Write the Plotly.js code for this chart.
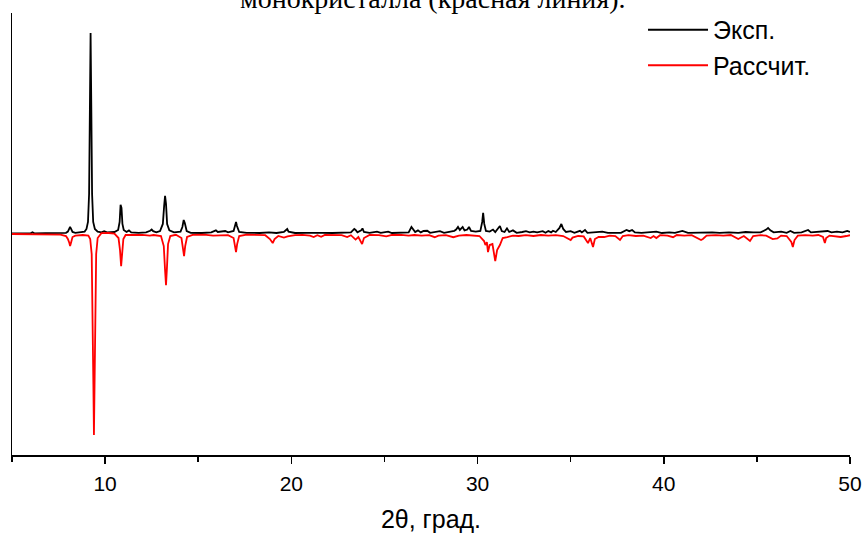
<!DOCTYPE html>
<html>
<head>
<meta charset="utf-8">
<script src="https://cdn.plot.ly/plotly-3.0.1.min.js"></script>
<style>html,body{margin:0;padding:0;background:#fff;}#chart{width:867px;height:538px;}</style>
</head>
<body>
<div id="chart"></div>
<script>
// Experimental pattern (2θ, intensity)
const expTwoTheta = [
 5.0, 5.5, 6.0, 6.1, 6.2, 6.8, 7.5, 7.9, 8.0, 8.08, 8.12, 8.16, 8.25, 8.4, 8.7, 8.9,
 9.0, 9.08, 9.14, 9.18, 9.22, 9.26, 9.3, 9.36, 9.45, 9.6, 9.8, 9.95, 10.1, 10.5,
 10.7, 10.78, 10.83, 10.88, 10.93, 11.0, 11.15, 11.28, 11.4, 11.8, 12.2, 12.42, 12.5, 12.58, 12.75,
 12.95, 13.1, 13.17, 13.22, 13.27, 13.33, 13.45, 13.7, 14.05, 14.15, 14.22, 14.28, 14.38, 14.6,
 15.2, 15.7, 15.95, 16.05, 16.45, 16.6, 16.9, 16.98, 17.03, 17.08, 17.2, 17.6, 18.3, 18.8, 19.2,
 19.6, 19.72, 19.78, 19.85, 20.2, 20.8, 21.3, 21.7, 22.2, 22.8, 23.2, 23.38, 23.45, 23.55, 23.75,
 23.82, 23.9, 24.2, 24.6, 24.8, 25.2, 25.4, 25.9, 26.3, 26.45, 26.52, 26.65, 26.8, 26.95, 27.1,
 27.3, 27.45, 27.98, 28.2, 28.5, 28.75, 28.85, 28.95, 29.05, 29.2, 29.3, 29.45, 29.54, 29.65, 29.9,
 30.15, 30.25, 30.3, 30.36, 30.45, 30.65, 30.83, 30.95, 31.1, 31.2, 31.3, 31.45, 31.58, 31.7, 31.9,
 32.1, 32.4, 32.6, 32.8, 33.0, 33.2, 33.5, 33.65, 33.8, 33.95, 34.05, 34.2, 34.4, 34.5, 34.6,
 34.75, 35.0, 35.2, 35.5, 35.6, 35.77, 35.9, 36.2, 36.7, 37.0, 37.4, 37.7, 38.0, 38.15, 38.3,
 38.45, 38.8, 39.3, 39.6, 39.9, 40.3, 40.6, 41.0, 41.3, 41.8, 42.2, 42.6, 43.0, 43.5, 44.0,
 44.4, 44.8, 45.2, 45.5, 45.6, 45.72, 45.9, 46.3, 46.6, 46.8, 47.0, 47.4, 47.75, 47.9, 48.3,
 48.8, 49.0, 49.3, 49.6, 49.85, 50.0
];
const expIntensity = [
 3, 2, 3, 8, 3, 4, 4, 6, 12, 30, 35, 28, 10, 6, 8, 12,
 25, 60, 200, 600, 1000, 620, 200, 60, 25, 12, 8, 14, 8, 10,
 20, 60, 145, 130, 50, 20, 10, 18, 8, 6, 8, 16, 22, 14, 8,
 15, 50, 140, 190, 150, 50, 18, 8, 12, 35, 70, 55, 15, 6,
 5, 8, 18, 10, 15, 8, 15, 45, 60, 40, 10, 6, 5, 8, 5,
 10, 22, 25, 12, 5, 6, 8, 6, 5, 6, 8, 25, 20, 8, 18,
 28, 10, 6, 12, 6, 12, 5, 6, 8, 35, 25, 10, 18, 8, 15,
 16, 6, 14, 6, 10, 16, 22, 35, 20, 35, 18, 22, 35, 15, 12,
 15, 60, 105, 50, 15, 12, 22, 10, 25, 40, 15, 10, 28, 10, 18,
 6, 10, 14, 8, 12, 8, 14, 6, 15, 8, 16, 10, 30, 50, 25,
 10, 14, 6, 16, 8, 20, 6, 8, 12, 6, 8, 6, 20, 14, 20,
 8, 6, 12, 12, 5, 8, 6, 15, 6, 8, 6, 8, 6, 8, 6,
 10, 8, 8, 22, 30, 18, 8, 12, 6, 15, 6, 8, 20, 8, 10,
 15, 8, 12, 8, 15, 10
];
// Calculated pattern (2θ, intensity, plotted inverted)
const calcTwoTheta = [
 5.0, 5.5, 6.0, 6.5, 7.0, 7.6, 7.9, 8.0, 8.08, 8.12, 8.18, 8.25, 8.4, 8.8, 9.1,
 9.2, 9.28, 9.33, 9.37, 9.4, 9.43, 9.47, 9.52, 9.6, 9.8, 10.2, 10.5, 10.72, 10.8, 10.86,
 10.92, 10.98, 11.1, 11.5, 12.0, 12.4, 12.6, 13.0, 13.15, 13.22, 13.27, 13.32, 13.38, 13.5, 13.8,
 14.1, 14.18, 14.24, 14.3, 14.4, 14.7, 15.3, 15.8, 16.3, 16.6, 16.9, 16.98, 17.03, 17.09, 17.2,
 17.6, 18.1, 18.6, 18.85, 19.0, 19.1, 19.3, 19.6, 19.8, 20.2, 20.6, 21.0, 21.2, 21.4, 21.6,
 21.8, 22.3, 22.7, 23.0, 23.2, 23.45, 23.6, 23.8, 23.9, 24.2, 24.7, 25.1, 25.4, 25.9, 26.3,
 26.6, 27.0, 27.4, 27.7, 27.9, 28.3, 28.7, 29.0, 29.4, 29.8, 30.1, 30.35, 30.42, 30.5, 30.56,
 30.65, 30.8, 30.95, 31.05, 31.2, 31.35, 31.6, 31.9, 32.2, 32.6, 33.0, 33.4, 33.8, 34.2, 34.6,
 34.85, 35.0, 35.1, 35.4, 35.7, 35.93, 36.05, 36.2, 36.3, 36.5, 36.8, 37.1, 37.4, 37.65, 37.8,
 38.1, 38.5, 38.9, 39.3, 39.45, 39.6, 39.8, 40.2, 40.5, 40.7, 41.1, 41.5, 42.0, 42.1, 42.3,
 42.8, 43.2, 43.6, 44.0, 44.1, 44.3, 44.63, 44.8, 45.2, 45.5, 45.85, 46.1, 46.3, 46.6, 46.85,
 46.93, 47.02, 47.2, 47.6, 48.0, 48.3, 48.55, 48.65, 48.72, 48.9, 49.2, 49.5, 49.8, 50.0
];
const calcIntensity = [
 0, 0, 0, 0, -2, -3, -10, -25, -45, -60, -40, -15, -8, -5, -8,
 -25, -100, -350, -750, -1000, -750, -350, -100, -20, 4, 5, 2, -20, -80, -160,
 -90, -25, -5, -3, -4, -8, -5, -10, -60, -180, -255, -170, -50, -10, -4,
 -20, -70, -110, -60, -15, -4, -3, -8, -5, -6, -20, -60, -90, -50, -10,
 -3, -3, -6, -25, -45, -25, -10, -18, -12, -6, -4, -8, -15, -6, -14,
 -5, -4, -6, -15, -6, -28, -15, -50, -20, -5, -6, -12, -5, -4, -8,
 -5, -8, -6, -16, -8, -6, -16, -8, -5, -8, -10, -35, -55, -40, -90,
 -55, -50, -135, -80, -55, -20, -15, -8, -10, -6, -10, -5, -8, -6, -10,
 -22, -30, -18, -10, -12, -45, -20, -65, -25, -15, -15, -8, -10, -30, -10,
 -6, -10, -8, -20, -10, -20, -6, -8, -16, -5, -8, -6, -30, -25, -8,
 -6, -8, -5, -25, -20, -10, -35, -10, -6, -8, -25, -22, -8, -10, -40,
 -65, -30, -8, -6, -8, -5, -15, -45, -20, -8, -10, -15, -10, -6
];
const xTickVals = [10, 20, 30, 40, 50];
const seriesNames = ['Эксп.', 'Рассчит.'];
const captionText = 'монокристалла (красная линия).';
const xTitle = '2θ, град.';

const sans = 'Liberation Sans, Arial, sans-serif';
const traces = [
  {x: expTwoTheta, y: expIntensity, type: 'scatter', mode: 'lines', name: seriesNames[0],
   legendgroup: 'a', line: {color: '#000000', width: 1.8}},
  {x: calcTwoTheta, y: calcIntensity, type: 'scatter', mode: 'lines', name: seriesNames[1],
   legendgroup: 'b', line: {color: '#ff0000', width: 1.8}}
];
const layout = {
  width: 867, height: 538,
  margin: {l: 12, r: 17, t: 13, b: 83, autoexpand: false},
  paper_bgcolor: '#ffffff', plot_bgcolor: '#ffffff',
  showlegend: true,
  legend: {x: 0.753, y: 0.987, xref: 'paper', yref: 'container', xanchor: 'left', yanchor: 'top', bgcolor: 'rgba(0,0,0,0)',
    font: {family: sans, size: 25, color: '#000'},
    traceorder: 'grouped', tracegroupgap: 0, itemwidth: 60},
  xaxis: {range: [5, 50], showgrid: false, zeroline: false, showline: true, linecolor: '#000', linewidth: 1.5,
    ticks: 'outside', ticklen: 7, tickwidth: 1.5, tickcolor: '#000', tickvals: xTickVals,
    ticklabelstandoff: 2, automargin: false,
    minor: {ticks: 'outside', ticklen: 5, tickwidth: 1.5, tickcolor: '#000', dtick: 5, tick0: 5, showgrid: false},
    tickfont: {family: sans, size: 21, color: '#000'},
    title: {text: xTitle, font: {family: sans, size: 25, color: '#000'}, standoff: 17}},
  yaxis: {range: [-1100, 1100], showgrid: false, zeroline: false, showline: true, linecolor: '#000', linewidth: 1.5,
    ticks: '', showticklabels: false, automargin: false},
  annotations: [{text: captionText, xref: 'paper', yref: 'paper', x: 0.502, y: 1.0, yanchor: 'bottom',
    xanchor: 'center', showarrow: false, yshift: -3,
    font: {family: 'Liberation Serif, Times New Roman, serif', size: 28, color: '#000'}}]
};
Plotly.newPlot('chart', traces, layout, {displayModeBar: false, staticPlot: true});
</script>
</body>
</html>
